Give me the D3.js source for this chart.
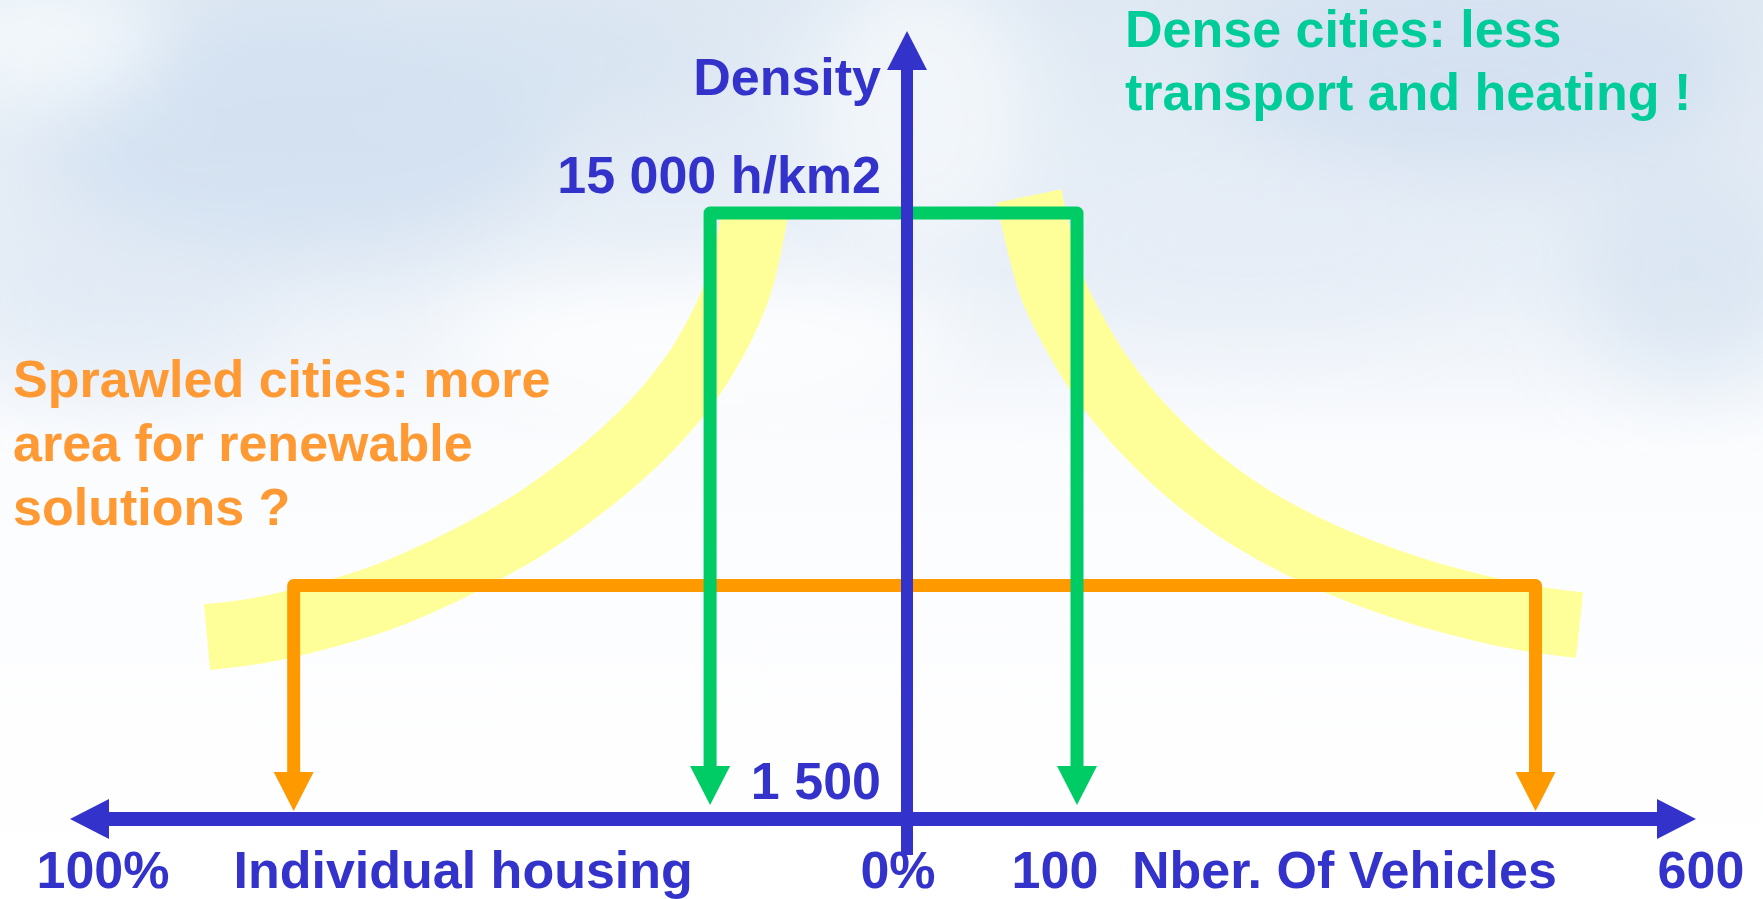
<!DOCTYPE html>
<html>
<head>
<meta charset="utf-8">
<script src="https://cdn.jsdelivr.net/npm/d3@7"></script>
<style>
  body { margin: 0; overflow: hidden; background: #fff; }
  text { font-family: "Liberation Sans", Arial, sans-serif; font-weight: bold; }
</style>
</head>
<body>
<div id="chart"></div>
<script>
// ---- data ----
// yellow trend, left half: [individual housing %, density h/km2]
var housingCurve = [[18.84, 15000], [21.04, 13285], [25.28, 11723], [29.0, 10803], [32.85, 10048],
                    [37.92, 9228], [44.45, 8344], [48.19, 7907], [54.04, 7323], [60.64, 6757],
                    [65.7, 6390], [75.46, 5886], [81.41, 5666], [86.74, 5554]];
// yellow trend, right half: [number of vehicles, density h/km2]
var vehicleCurve = [[71.76, 15379], [85.0, 13387], [97.4, 12400], [121.2, 11280], [155.4, 10128],
                    [196.5, 9065], [239.6, 8212], [294.9, 7397], [366.8, 6630], [435.0, 6122],
                    [471.6, 5933], [503.3, 5822]];
// the two city types: housing %, vehicles, density
var cityNames = ["dense", "sprawled"];
var cityHousing = [24.4, 76];
var cityVehicles = [100, 468];
var cityDensity = [15000, 6700];
// axis labels
var densityTicks = [15000, 1500];
var densityTickLabels = ["15 000 h/km2", "1 500"];
var housingTicks = [100, 0];
var housingTickLabels = ["100%", "0%"];
var vehicleTicks = [100, 600];
var vehicleTickLabels = ["100", "600"];
var denseNote = ["Dense cities: less", "transport and heating !"];
var sprawlNote = ["Sprawled cities: more", "area for renewable", "solutions ?"];

var W = 1763, H = 899;
var blue = "#3333cc", green = "#00cc66", orange = "#ff9900", yellow = "#ffff99";

var svg = d3.select("#chart").append("svg")
    .attr("width", W)
    .attr("height", H);
var defs = svg.append("defs");

// scales: housing grows to the left, vehicles to the right of the density axis
var xHousing = d3.scaleLinear().domain([0, 100]).range([907, 100]);
var xVehicles = d3.scaleLinear().domain([0, 100, 600]).range([907, 1077, 1700]);
var yDensity = d3.scaleLinear().domain([1500, 15000]).range([819, 213]);

var axisX = xHousing(0), axisY = yDensity(1500);

//sky background
var skyGrad = defs.append("linearGradient").attr("id", "sky")
    .attr("x1", 0).attr("y1", 0).attr("x2", 0).attr("y2", 1);
skyGrad.append("stop").attr("offset", "0%").attr("stop-color", "#dfe9f3");
skyGrad.append("stop").attr("offset", "30%").attr("stop-color", "#e8eff7");
skyGrad.append("stop").attr("offset", "50%").attr("stop-color", "#fbfcfe");
skyGrad.append("stop").attr("offset", "100%").attr("stop-color", "#ffffff");
defs.append("filter").attr("id", "soft")
    .attr("x", "-50%").attr("y", "-50%").attr("width", "200%").attr("height", "200%")
    .append("feGaussianBlur").attr("stdDeviation", 40);
svg.append("rect").attr("width", W).attr("height", H).attr("fill", "url(#sky)");
var sky = svg.append("g").attr("filter", "url(#soft)");
var clouds = [
    {cx: 300, cy: 130, rx: 260, ry: 120, c: "#d0def0", o: 0.8},
    {cx: 560, cy: 60, rx: 160, ry: 70, c: "#d6e3f1", o: 0.7},
    {cx: 40, cy: 40, rx: 120, ry: 70, c: "#f4f8fc", o: 0.9},
    {cx: 920, cy: 110, rx: 110, ry: 140, c: "#f3f7fb", o: 0.9},
    {cx: 1480, cy: 70, rx: 260, ry: 100, c: "#d2def0", o: 0.8},
    {cx: 1690, cy: 270, rx: 110, ry: 110, c: "#d5e2f1", o: 0.7},
    {cx: 1250, cy: 240, rx: 200, ry: 80, c: "#e6edf6", o: 0.6},
    {cx: 700, cy: 340, rx: 260, ry: 70, c: "#ffffff", o: 0.8},
    {cx: 120, cy: 300, rx: 150, ry: 90, c: "#dde8f3", o: 0.6}
];
sky.selectAll("ellipse").data(clouds).enter().append("ellipse")
    .attr("cx", function (d) { return d.cx; })
    .attr("cy", function (d) { return d.cy; })
    .attr("rx", function (d) { return d.rx; })
    .attr("ry", function (d) { return d.ry; })
    .attr("fill", function (d) { return d.c; })
    .attr("opacity", function (d) { return d.o; });

// arrow heads
function arrowMarker(id, color) {
    defs.append("marker").attr("id", id)
        .attr("viewBox", "0 -20 40 40")
        .attr("markerUnits", "userSpaceOnUse")
        .attr("markerWidth", 40).attr("markerHeight", 40)
        .attr("refX", 0).attr("refY", 0)
        .attr("orient", "auto-start-reverse")
        .append("path").attr("d", "M0,-20L39,0L0,20Z").attr("fill", color);
}
arrowMarker("arrow-blue", blue);
arrowMarker("arrow-green", green);
arrowMarker("arrow-orange", orange);

//yellow trend bands
var housingLine = d3.line()
    .x(function (d) { return xHousing(d[0]); })
    .y(function (d) { return yDensity(d[1]); })
    .curve(d3.curveCatmullRom.alpha(0.5));
var vehicleLine = d3.line()
    .x(function (d) { return xVehicles(d[0]); })
    .y(function (d) { return yDensity(d[1]); })
    .curve(d3.curveCatmullRom.alpha(0.5));
svg.append("path").attr("d", housingLine(housingCurve))
    .attr("fill", "none").attr("stroke", yellow).attr("stroke-width", 66);
svg.append("path").attr("d", vehicleLine(vehicleCurve))
    .attr("fill", "none").attr("stroke", yellow).attr("stroke-width", 66);

// city brackets: down-arrows onto both horizontal axes
var tipGap = {dense: 14, sprawled: 8};
var cityColor = {dense: green, sprawled: orange};
var order = [1, 0]; // sprawled first, dense drawn on top
order.forEach(function (i) {
    var name = cityNames[i];
    var endY = axisY - tipGap[name] - 39;
    var p = d3.path();
    p.moveTo(xHousing(cityHousing[i]), endY);
    p.lineTo(xHousing(cityHousing[i]), yDensity(cityDensity[i]));
    p.lineTo(xVehicles(cityVehicles[i]), yDensity(cityDensity[i]));
    p.lineTo(xVehicles(cityVehicles[i]), endY);
    svg.append("path").attr("d", p.toString())
        .attr("fill", "none")
        .attr("stroke", cityColor[name])
        .attr("stroke-width", 13)
        .attr("stroke-linejoin", "round")
        .attr("marker-start", "url(#arrow-" + (name == "dense" ? "green" : "orange") + ")")
        .attr("marker-end", "url(#arrow-" + (name == "dense" ? "green" : "orange") + ")");
});

// axes
svg.append("line")
    .attr("x1", xHousing(100) + 9).attr("y1", axisY)
    .attr("x2", xVehicles(600) - 43).attr("y2", axisY)
    .attr("stroke", blue).attr("stroke-width", 14)
    .attr("marker-start", "url(#arrow-blue)")
    .attr("marker-end", "url(#arrow-blue)");
svg.append("line")
    .attr("x1", axisX).attr("y1", axisY + 36)
    .attr("x2", axisX).attr("y2", 70)
    .attr("stroke", blue).attr("stroke-width", 12)
    .attr("marker-end", "url(#arrow-blue)");

// labels
var fs = 52;
svg.append("text").attr("x", axisX - 26).attr("y", 95)
    .attr("text-anchor", "end").attr("font-size", fs).attr("fill", blue)
    .text("Density");
svg.selectAll(".ytick").data(densityTicks).enter().append("text")
    .attr("class", "ytick")
    .attr("x", axisX - 26)
    .attr("y", function (d) { return yDensity(d) - 20; })
    .attr("text-anchor", "end").attr("font-size", fs).attr("fill", blue)
    .text(function (d, i) { return densityTickLabels[i]; });

var bottomY = 888;
svg.selectAll(".htick").data(housingTicks).enter().append("text")
    .attr("class", "htick")
    .attr("x", function (d) { return xHousing(d) + (d == 0 ? -9 : 3); })
    .attr("y", bottomY)
    .attr("text-anchor", "middle").attr("font-size", fs).attr("fill", blue)
    .text(function (d, i) { return housingTickLabels[i]; });
svg.selectAll(".vtick").data(vehicleTicks).enter().append("text")
    .attr("class", "vtick")
    .attr("x", function (d) { return xVehicles(d) + (d == 100 ? -22 : 1); })
    .attr("y", bottomY)
    .attr("text-anchor", "middle").attr("font-size", fs).attr("fill", blue)
    .text(function (d, i) { return vehicleTickLabels[i]; });
svg.append("text").attr("x", xHousing(55)).attr("y", bottomY)
    .attr("text-anchor", "middle").attr("font-size", fs).attr("fill", blue)
    .text("Individual housing");
svg.append("text").attr("x", xVehicles(100) + 55).attr("y", bottomY)
    .attr("text-anchor", "start").attr("font-size", fs).attr("fill", blue)
    .text("Nber. Of Vehicles");

// notes
svg.append("text").attr("x", 1125).attr("y", 47)
    .attr("font-size", fs).attr("fill", "#00cc99")
    .selectAll("tspan").data(denseNote).enter().append("tspan")
    .attr("x", 1125).attr("dy", function (d, i) { return i ? 63 : 0; })
    .text(function (d) { return d; });
svg.append("text").attr("x", 13).attr("y", 397)
    .attr("font-size", fs).attr("fill", "#ff9933")
    .selectAll("tspan").data(sprawlNote).enter().append("tspan")
    .attr("x", 13).attr("dy", function (d, i) { return i ? 64 : 0; })
    .text(function (d) { return d; });
</script>
</body>
</html>
